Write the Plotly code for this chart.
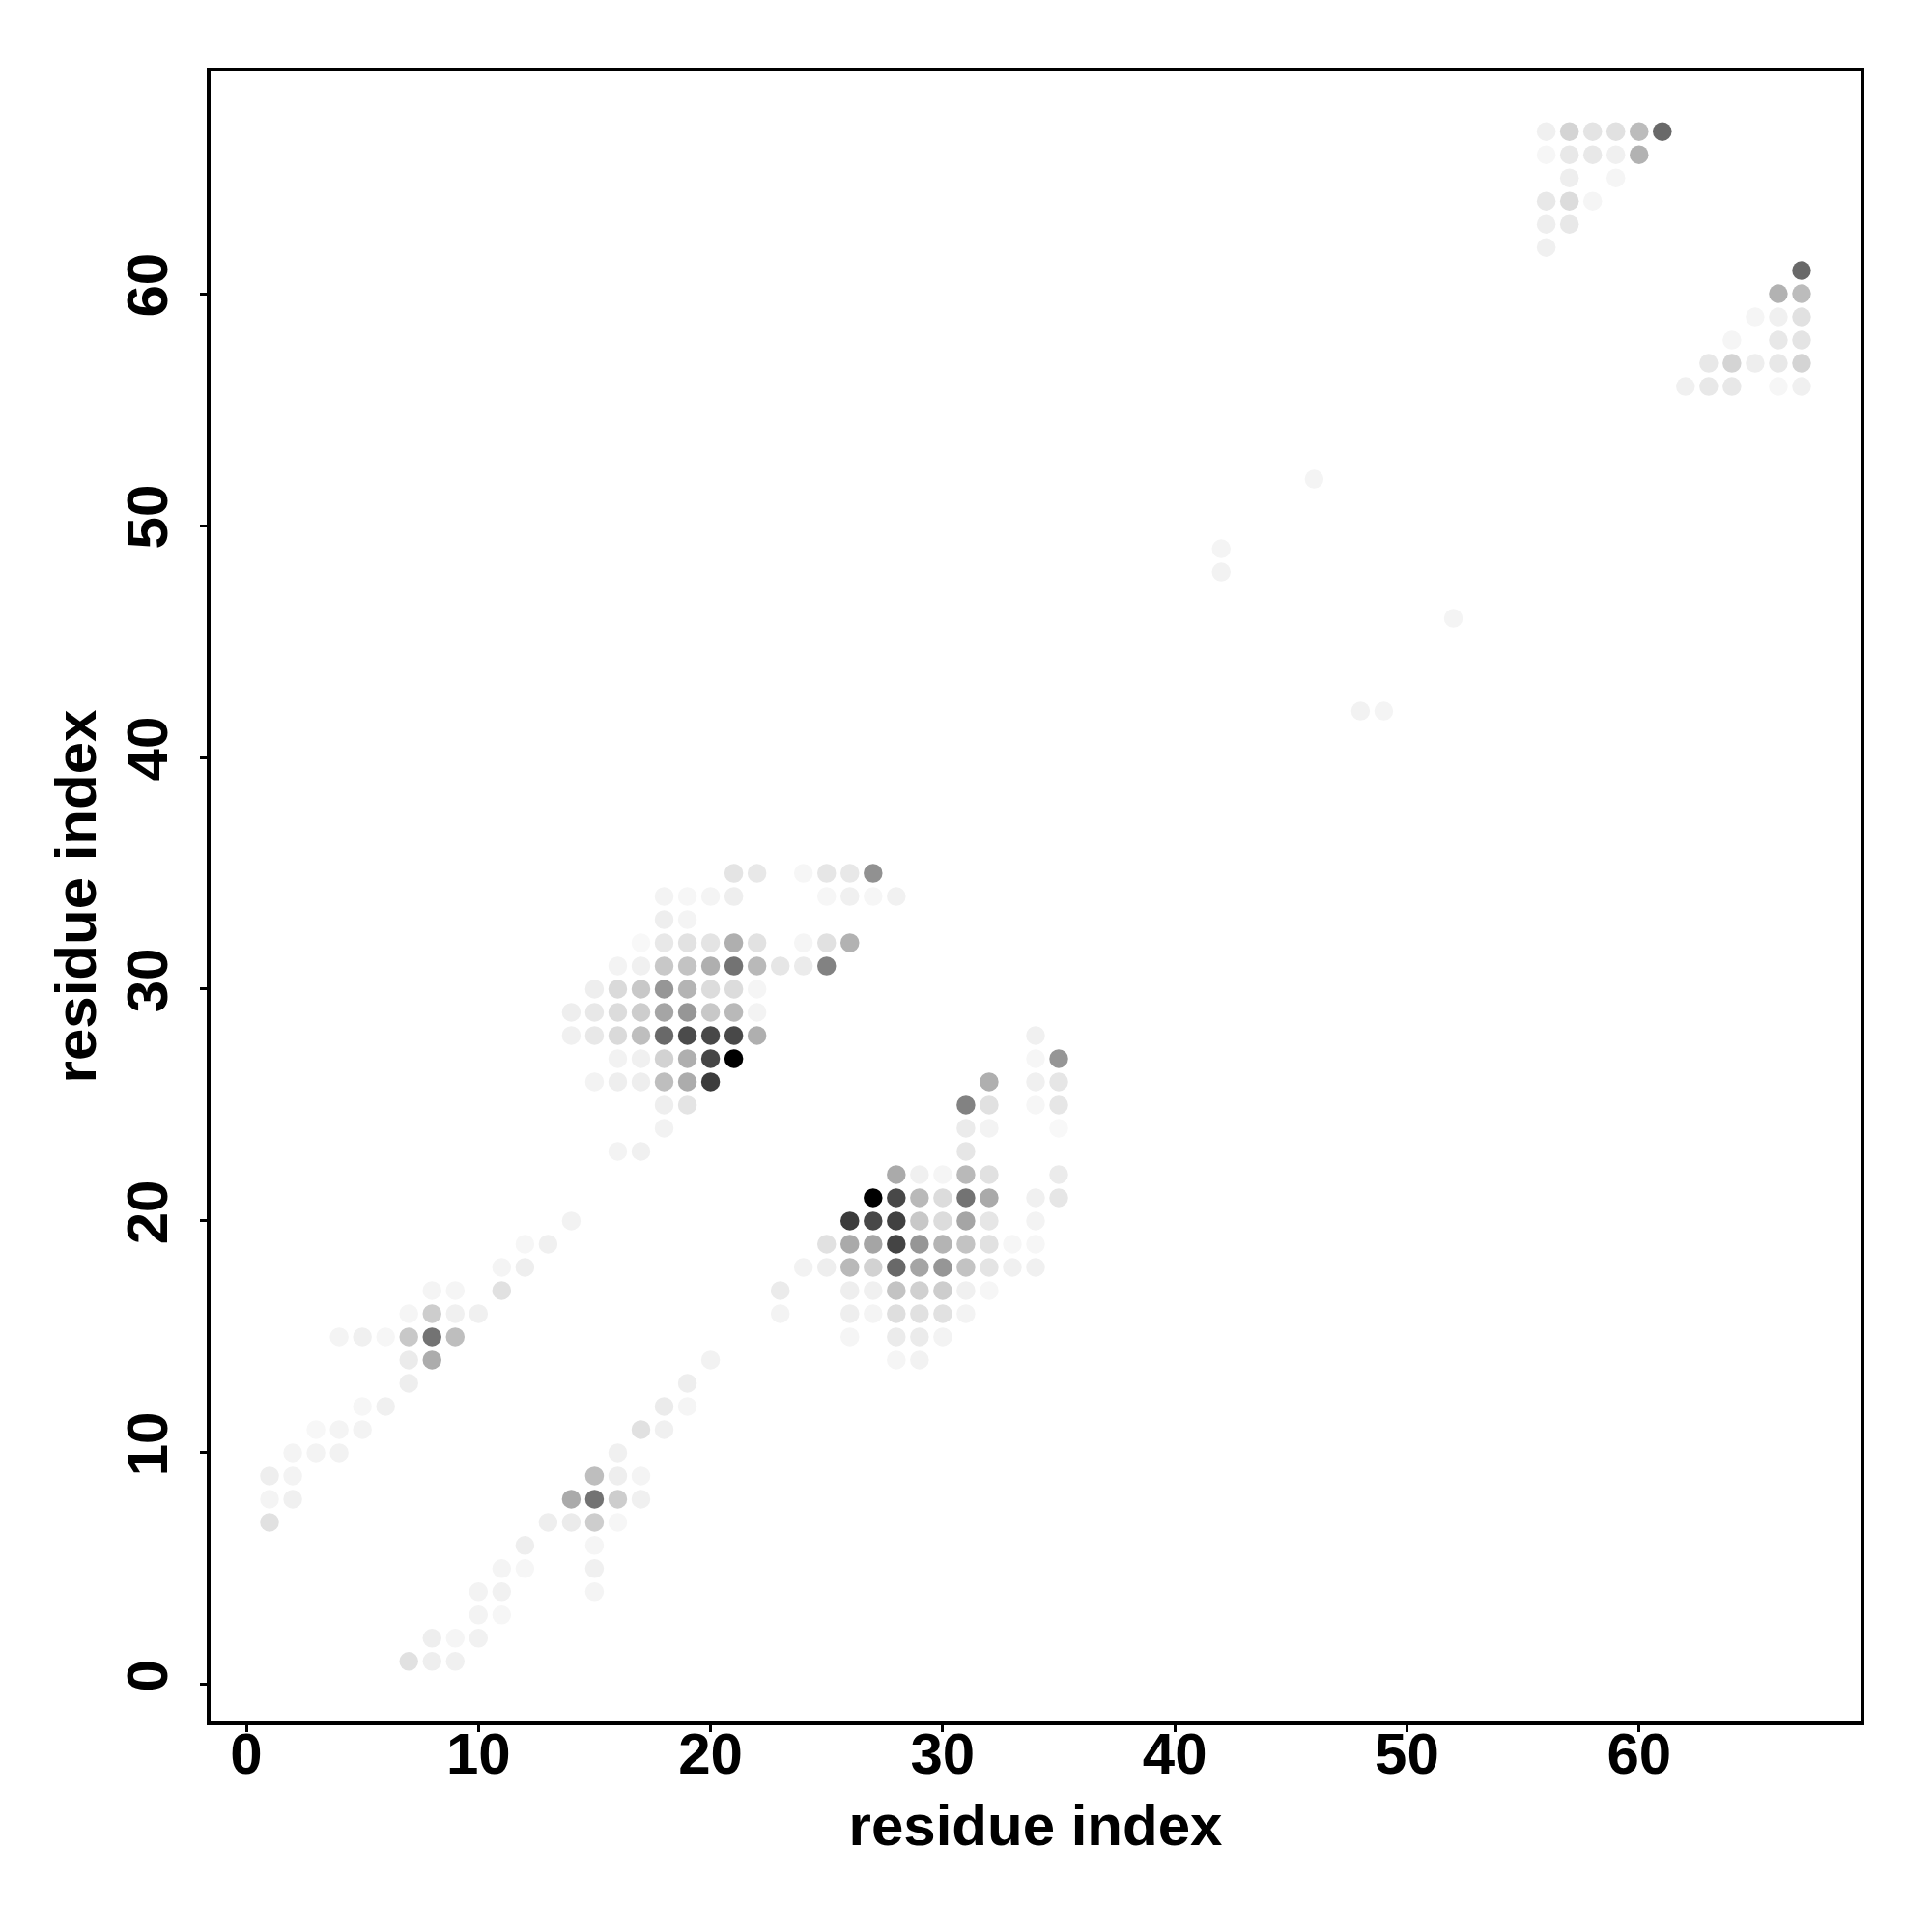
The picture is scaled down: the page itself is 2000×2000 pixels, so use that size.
import plotly.graph_objects as go

# Contact map cells, grouped by row: residue_y -> (residue_x list, grey level list)
row_y = [
    67, 66, 65, 64, 63, 62, 61, 60, 59, 58, 57, 56,
    52, 49, 48, 46, 42,
    35, 34, 33, 32, 31, 30, 29, 28, 27, 26, 25, 24, 23,
    22, 21, 20, 19, 18, 17, 16, 15, 14, 13, 12, 11, 10, 9, 8, 7, 6, 5, 4, 3, 2, 1,
]
row_x = [
    [56, 57, 58, 59, 60, 61],
    [56, 57, 58, 59, 60],
    [57, 59],
    [56, 57, 58],
    [56, 57],
    [56],
    [67],
    [66, 67],
    [65, 66, 67],
    [64, 66, 67],
    [63, 64, 65, 66, 67],
    [62, 63, 64, 66, 67],
    [46],
    [42],
    [42],
    [52],
    [48, 49],
    [21, 22, 24, 25, 26, 27],
    [18, 19, 20, 21, 25, 26, 27, 28],
    [18, 19],
    [17, 18, 19, 20, 21, 22, 24, 25, 26],
    [16, 17, 18, 19, 20, 21, 22, 23, 24, 25],
    [15, 16, 17, 18, 19, 20, 21, 22],
    [14, 15, 16, 17, 18, 19, 20, 21, 22],
    [14, 15, 16, 17, 18, 19, 20, 21, 22, 34],
    [16, 17, 18, 19, 20, 21, 34, 35],
    [15, 16, 17, 18, 19, 20, 32, 34, 35],
    [18, 19, 31, 32, 34, 35],
    [18, 31, 32, 35],
    [16, 17, 31],
    [28, 29, 30, 31, 32, 35],
    [27, 28, 29, 30, 31, 32, 34, 35],
    [14, 26, 27, 28, 29, 30, 31, 32, 34],
    [12, 13, 25, 26, 27, 28, 29, 30, 31, 32, 33, 34],
    [11, 12, 24, 25, 26, 27, 28, 29, 30, 31, 32, 33, 34],
    [8, 9, 11, 23, 26, 27, 28, 29, 30, 31, 32],
    [7, 8, 9, 10, 23, 26, 27, 28, 29, 30, 31],
    [4, 5, 6, 7, 8, 9, 26, 28, 29, 30],
    [7, 8, 20, 28, 29],
    [7, 19],
    [5, 6, 18, 19],
    [3, 4, 5, 17, 18],
    [2, 3, 4, 16],
    [1, 2, 15, 16, 17],
    [1, 2, 14, 15, 16, 17],
    [1, 13, 14, 15, 16],
    [12, 15],
    [11, 12, 15],
    [10, 11, 15],
    [10, 11],
    [8, 9, 10],
    [7, 8, 9],
]
row_grey = [
    [240, 212, 228, 225, 188, 105],
    [246, 232, 232, 240, 178],
    [238, 245],
    [232, 220, 245],
    [238, 232],
    [240],
    [105],
    [178, 188],
    [245, 240, 225],
    [245, 232, 228],
    [232, 212, 238, 232, 212],
    [240, 232, 232, 246, 240],
    [244],
    [244],
    [242],
    [244],
    [242, 244],
    [228, 232, 246, 230, 232, 145],
    [243, 246, 244, 238, 246, 240, 246, 241],
    [238, 244],
    [248, 232, 226, 228, 175, 226, 245, 225, 178],
    [243, 240, 200, 195, 175, 115, 185, 230, 235, 130],
    [238, 218, 200, 150, 180, 220, 220, 245],
    [238, 232, 220, 205, 165, 150, 200, 185, 243],
    [240, 232, 218, 190, 105, 75, 72, 72, 175, 240],
    [242, 240, 210, 175, 70, 0, 246, 150],
    [243, 238, 238, 190, 172, 60, 175, 240, 230],
    [238, 228, 130, 225, 246, 230],
    [242, 235, 243, 248],
    [243, 240, 230],
    [170, 240, 245, 185, 225, 235],
    [0, 72, 185, 220, 115, 170, 240, 230],
    [242, 60, 72, 65, 200, 220, 165, 230, 243],
    [246, 240, 225, 170, 165, 68, 150, 180, 195, 225, 246, 246],
    [244, 238, 242, 238, 185, 210, 105, 165, 150, 195, 228, 240, 240],
    [244, 245, 225, 235, 238, 240, 195, 208, 205, 240, 246],
    [245, 205, 240, 240, 243, 238, 244, 222, 225, 225, 243],
    [244, 240, 246, 200, 115, 190, 245, 235, 235, 243],
    [235, 172, 242, 245, 242],
    [238, 238],
    [246, 240, 235, 245],
    [247, 244, 243, 225, 240],
    [244, 243, 242, 240],
    [238, 243, 190, 238, 244],
    [244, 240, 170, 115, 205, 240],
    [225, 238, 235, 205, 246],
    [238, 245],
    [244, 246, 240],
    [243, 241, 244],
    [243, 246],
    [238, 245, 241],
    [225, 238, 240],
]
axis_title = "residue index"
tick_values = [0, 10, 20, 30, 40, 50, 60]

xs, ys, greys = [], [], []
for y, cols, levels in zip(row_y, row_x, row_grey):
    assert len(cols) == len(levels), y
    xs += cols
    ys += [y] * len(cols)
    greys += levels

FONT = "Liberation Sans"
fig = go.Figure(go.Scatter(
    x=xs, y=ys, mode="markers",
    marker=dict(size=19.5, color=greys, cmin=0, cmax=255,
                colorscale=[[0, "#000000"], [1, "#ffffff"]], line=dict(width=0)),
    showlegend=False, hoverinfo="skip",
))

axis_common = dict(
    tickmode="array", tickvals=tick_values, ticks="outside", ticklen=7, tickwidth=3,
    tickcolor="black", showline=True, linecolor="black", linewidth=4, mirror=True,
    showgrid=False, zeroline=False, automargin=False,
    tickfont=dict(family=FONT, size=60, color="black", weight="bold"),
)
fig.update_layout(
    width=2000, height=2000, autosize=False,
    margin=dict(l=218, r=74, t=73.5, b=217.5, pad=0),
    paper_bgcolor="white", plot_bgcolor="white",
    xaxis=dict(range=[-1.54, 69.54], tickangle=0, ticklabelstandoff=-29,
               title=dict(text=axis_title, standoff=21,
                          font=dict(family=FONT, size=60, color="black", weight="bold")),
               **axis_common),
    yaxis=dict(range=[-1.59, 69.59], tickangle=-90, ticklabelstandoff=10,
               title=dict(text=axis_title, standoff=1,
                          font=dict(family=FONT, size=60, color="black", weight="bold")),
               **axis_common),
)
fig.write_html("out.html", post_script="document.body.style.margin='0';", config={"displayModeBar": False})
